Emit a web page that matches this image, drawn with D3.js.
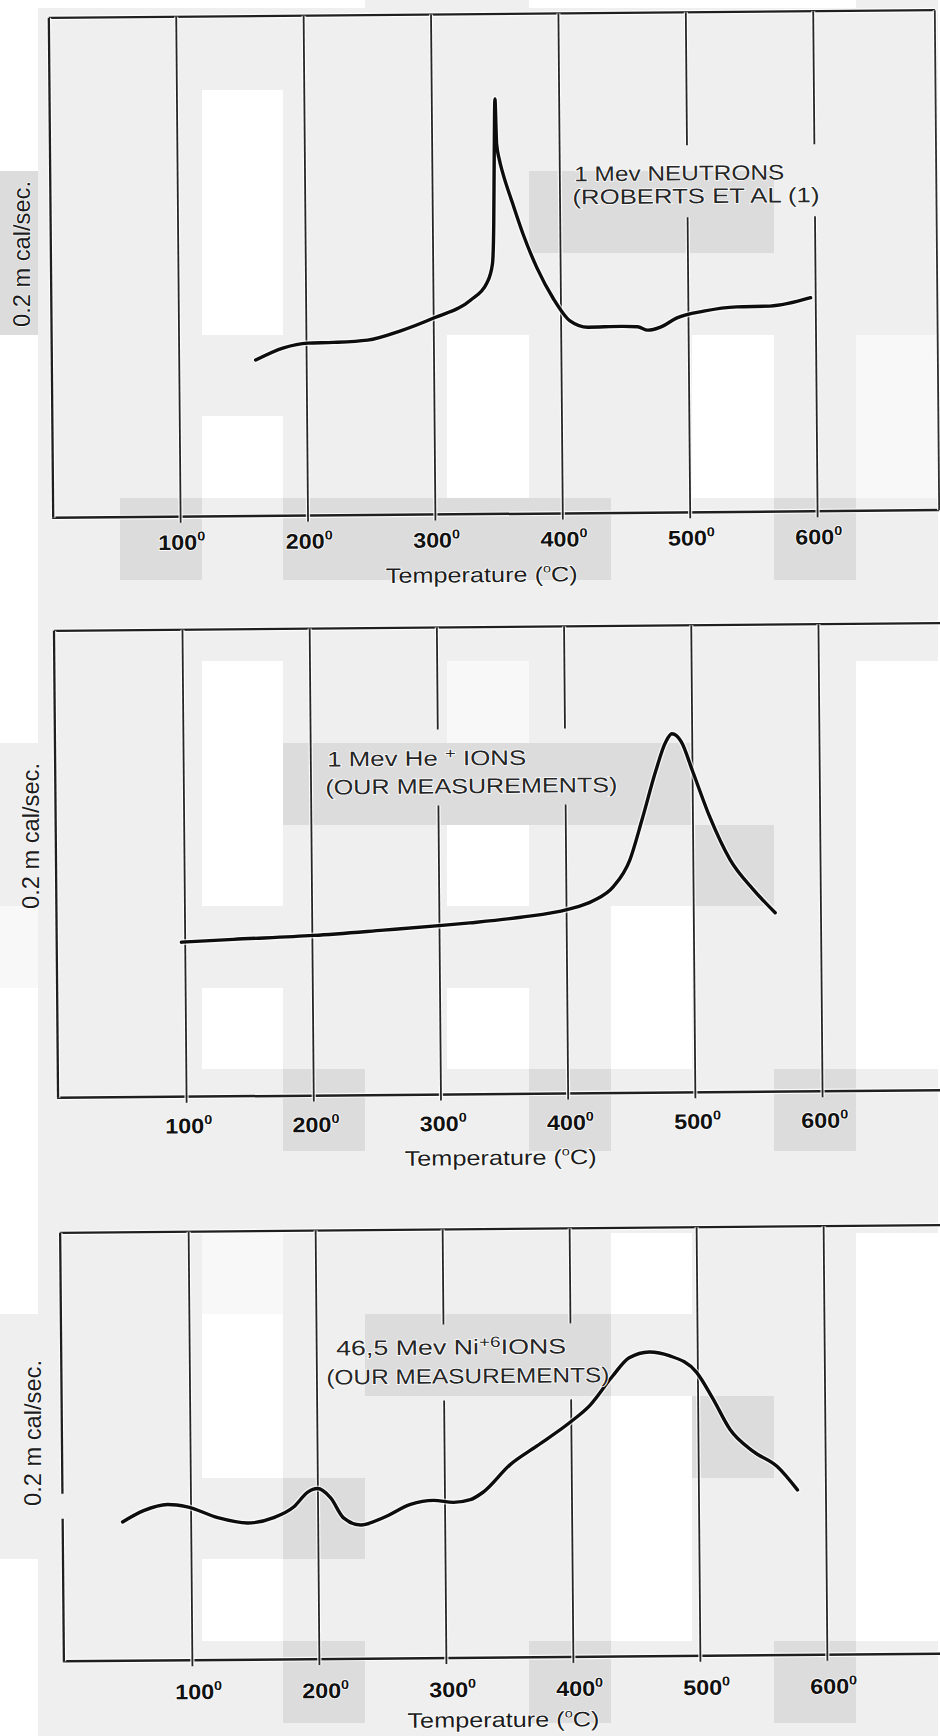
<!DOCTYPE html>
<html><head><meta charset="utf-8">
<script src="https://cdn.jsdelivr.net/npm/d3@7"></script>
<style>html,body{margin:0;padding:0;background:#fff;} svg{display:block;}</style>
</head><body>
<svg id="chart" width="940" height="1736"></svg>
<script>
// ---------------- data ----------------
const tickValues = [100, 200, 300, 400, 500, 600];
const tickLabels = ["100", "200", "300", "400", "500", "600"];
const yAxisLabel = "0.2 m cal/sec.";

// Panel 1 : 1 Mev neutrons (Roberts et al.)
const neutronTemps = [160, 182, 201, 221, 248, 274, 300, 329, 342, 346.5, 347.8, 348.6, 349.6, 350.6, 352.5, 355, 362.6, 370.5, 381.5, 394, 407, 421, 447, 460, 468, 478, 491, 512, 538, 564, 596];
const neutronVals  = [31.2, 33.6, 34.5, 34.6, 35.0, 36.8, 39.3, 42.8, 46.2, 50, 58, 71, 83, 74, 71, 68.4, 62.2, 56.1, 49.1, 43, 38.5, 37.2, 37.3, 37.2, 36.5, 37.1, 38.9, 40.2, 41, 41.1, 42.7];

// Panel 2 : 1 Mev He+ ions
const heTemps = [97, 138, 201, 256, 302, 324, 364, 401, 421, 437, 450, 460, 471, 479, 484, 491.5, 500, 513, 529, 547, 564];
const heVals  = [33.1, 33.6, 34.3, 35.3, 36.2, 36.7, 37.8, 39.4, 41.2, 44.2, 49.8, 58.5, 68.8, 75, 76.8, 75, 68.8, 59.1, 49.7, 43.3, 38.3];

// Panel 3 : 46,5 Mev Ni+6 ions
const niTemps = [46, 62.6, 81.5, 97, 121, 144.5, 165, 181, 192, 199.6, 210, 220, 233.5, 251.6, 272.8, 291, 306.7, 320, 330, 351.6, 372.8, 398.8, 414.6, 432.7, 446, 461.8, 477.5, 498.8, 511.4, 524.8, 543, 561.8, 577.6];
const niVals  = [32.4, 35, 36.4, 35.8, 33.2, 31.9, 33.1, 35.6, 39, 39.8, 37.6, 32.9, 31.2, 32.9, 35.9, 36.8, 36.3, 36.9, 38.6, 45, 49.3, 54.7, 58.6, 65.4, 69.7, 71, 70.1, 66.2, 60.1, 52.8, 47.6, 44, 38.5];

const annotation1 = [[{t:"1 Mev NEUTRONS"}], [{t:"(ROBERTS ET AL (1)"}]];
const annotation2 = [[{t:"1 Mev He "}, {t:"+", sup:true}, {t:" IONS"}], [{t:"(OUR MEASUREMENTS)"}]];
const annotation3 = [[{t:"46,5 Mev Ni"}, {t:"+6", sup:true}, {t:"IONS"}], [{t:"(OUR MEASUREMENTS)"}]];

// ---------------- scanned-page background tint pattern ----------------
const bgRows = [
  "WWWWWLLWWWWL",
  "WLLLLLLLLLLL",
  "WLLWLLLLLLLL",
  "DLLWLLLDDDLL",
  "DLLWLLLLLLLL",
  "WLLLLLWLLWLV",
  "WLLWLLWLLWLV",
  "WLDLDDDDLLDL",
  "WLLLLLLLLLLL",
  "WLLWLLVLLLLW",
  "LLLWDDDDDLLW",
  "LLLWLLWLLDLW",
  "VLLLLLLLWLLW",
  "WLLWLLWLWLLW",
  "WLLLDLLDLLDL",
  "WLLLLLLLLLLL",
  "WLLVLLLLWLLW",
  "LLLWLDDDLLLW",
  "LLLWLLLLWDLW",
  "LLLLDLLLWLLW",
  "WLLWLLLLWLLW",
  "WLLLDLLDLLDL",
  "WLLLLLLLLLLL"
];
const shade = {W:"#ffffff", L:"#efefef", D:"#dcdcdc", V:"#f8f8f8"};

const svg = d3.select("#chart");
const cellW = 81.8, cellH = 81.65;
const bg = svg.append("g").attr("shape-rendering", "crispEdges");
bgRows.forEach((row, i) => {
  row.split("").forEach((c, j) => {
    const x = 38 + cellW * (j - 1), y = 8 + cellH * (i - 1);
    bg.append("rect").attr("x", x).attr("y", y)
      .attr("width", cellW + 0.6).attr("height", cellH + 0.6)
      .attr("fill", shade[c]);
  });
});

// ---------------- panels ----------------
const panels = [
  { temps: neutronTemps, vals: neutronVals, ann: annotation1,
    x0: 51, x700: 942.8, frameLeft: 51, frameRight: 937, top: 14, bottom: 514,
    cx: 494, cy: 264, gapTicks: [500, 600], gap: [147, 219], frameGap: null,
    tickDx: 1, tickDy: 33, titleX: 479, titleY: 582,
    annLines: [{x: 575, y: 182, len: 210}, {x: 573, y: 205, len: 247}],
    yLab: {x: 30, y: 254} },
  { temps: heTemps, vals: heVals, ann: annotation2,
    x0: 57.3, x700: 947.7, frameLeft: 56, frameRight: null, top: 627, bottom: 1094,
    cx: 497, cy: 860, gapTicks: [300, 400], gap: [729, 805], frameGap: null,
    tickDx: 2, tickDy: 36.5, titleX: 498, titleY: 1165,
    annLines: [{x: 328, y: 765, len: 199}, {x: 326, y: 793, len: 292}],
    yLab: {x: 39, y: 836} },
  { temps: niTemps, vals: niVals, ann: annotation3,
    x0: 63.5, x700: 952.5, frameLeft: 62, frameRight: null, top: 1229, bottom: 1657.5,
    cx: 500, cy: 1443, gapTicks: [300, 400], gap: [1324, 1400], frameGap: [1490, 1515],
    tickDx: 6, tickDy: 39, titleX: 501, titleY: 1727,
    annLines: [{x: 337, y: 1354, len: 230}, {x: 327, y: 1383, len: 283}],
    yLab: {x: 41, y: 1433} }
];

const font = "'Liberation Sans', Arial, Helvetica, sans-serif";

function haloLine(g, pts, w, col) {
  const line = d3.line();
  g.append("path").attr("d", line(pts)).attr("fill", "none")
    .attr("stroke", "#ffffff").attr("stroke-width", w + 2.4).attr("stroke-opacity", 0.85);
  g.append("path").attr("d", line(pts)).attr("fill", "none")
    .attr("stroke", col).attr("stroke-width", w);
}

panels.forEach(p => {
  const xs = d3.scaleLinear().domain([0, 700]).range([p.x0, p.x700]);
  const ys = d3.scaleLinear().domain([0, 100]).range([p.bottom, p.top]);
  const g = svg.append("g").attr("transform", `rotate(-0.5,${p.cx},${p.cy})`);

  // frame
  const fr = p.frameRight !== null ? p.frameRight : 946;
  const frameCol = "#1f1f1f";
  haloLine(g, [[p.frameLeft, p.top], [fr, p.top]], 2.2, frameCol);
  haloLine(g, [[p.frameLeft - 1, p.bottom], [fr, p.bottom]], 2.5, frameCol);
  if (p.frameGap) {
    haloLine(g, [[p.frameLeft, p.top], [p.frameLeft, p.frameGap[0]]], 2.3, frameCol);
    haloLine(g, [[p.frameLeft, p.frameGap[1]], [p.frameLeft, p.bottom]], 2.3, frameCol);
  } else {
    haloLine(g, [[p.frameLeft, p.top], [p.frameLeft, p.bottom]], 2.3, frameCol);
  }
  if (p.frameRight !== null) haloLine(g, [[p.frameRight, p.top], [p.frameRight, p.bottom]], 1.8, "#2e2e2e");

  // vertical grid lines
  const gridCol = "#262626";
  tickValues.forEach(t => {
    const x = xs(t);
    if (p.gapTicks.includes(t)) {
      haloLine(g, [[x, p.top], [x, p.gap[0]]], 1.8, gridCol);
      haloLine(g, [[x, p.gap[1]], [x, p.bottom + 6]], 1.8, gridCol);
    } else {
      haloLine(g, [[x, p.top], [x, p.bottom + 6]], 1.8, gridCol);
    }
  });

  // curve
  const pts = p.temps.map((t, i) => ({t, v: p.vals[i]}));
  const line = d3.line().x(d => xs(d.t)).y(d => ys(d.v)).curve(d3.curveMonotoneX);
  g.append("path").datum(pts).attr("d", line).attr("fill", "none")
    .attr("stroke", "#fff").attr("stroke-width", 6).attr("stroke-opacity", 0.7)
    .attr("stroke-linecap", "round").attr("stroke-linejoin", "round");
  g.append("path").datum(pts).attr("d", line).attr("fill", "none")
    .attr("stroke", "#0d0d0d").attr("stroke-width", 3.4)
    .attr("stroke-linecap", "round").attr("stroke-linejoin", "round");

  // tick labels
  tickValues.forEach((t, i) => {
    const tx = g.append("text")
      .attr("x", xs(t) + p.tickDx).attr("y", p.bottom + p.tickDy)
      .attr("text-anchor", "middle")
      .attr("font-family", font).attr("font-weight", "bold").attr("font-size", 21)
      .attr("fill", "#111")
      .attr("stroke", "#fff").attr("stroke-width", 1.5).attr("paint-order", "stroke")
      .attr("textLength", 47).attr("lengthAdjust", "spacingAndGlyphs");
    tx.append("tspan").text(tickLabels[i]);
    tx.append("tspan").attr("font-size", 13).attr("dy", -9).text("0");
  });

  // axis title
  const tt = g.append("text")
    .attr("x", p.titleX).attr("y", p.titleY).attr("text-anchor", "middle")
    .attr("font-family", font).attr("font-size", 21).attr("fill", "#1c1c1c")
    .attr("stroke", "#fff").attr("stroke-width", 1.5).attr("paint-order", "stroke")
    .attr("textLength", 192).attr("lengthAdjust", "spacingAndGlyphs");
  tt.append("tspan").text("Temperature (");
  tt.append("tspan").attr("font-size", 12).attr("dy", -9).text("o");
  tt.append("tspan").attr("dy", 9).text("C)");

  // annotation
  p.ann.forEach((segs, li) => {
    const L = p.annLines[li];
    const te = g.append("text").attr("x", L.x).attr("y", L.y)
      .attr("font-family", font).attr("font-size", 21).attr("fill", "#262626")
      .attr("stroke", "#fff").attr("stroke-width", 1.5).attr("paint-order", "stroke")
      .attr("textLength", L.len).attr("lengthAdjust", "spacingAndGlyphs");
    let raised = false;
    segs.forEach(s => {
      const ts = te.append("tspan").text(s.t);
      if (s.sup) { ts.attr("font-size", 15).attr("dy", -7); raised = true; }
      else if (raised) { ts.attr("dy", 7); raised = false; }
    });
  });

  // y-axis label
  svg.append("text")
    .attr("transform", `translate(${p.yLab.x},${p.yLab.y}) rotate(-90)`)
    .attr("text-anchor", "middle")
    .attr("font-family", font).attr("font-size", 24).attr("fill", "#1c1c1c")
    .attr("stroke", "#fff").attr("stroke-width", 1.2).attr("paint-order", "stroke")
    .attr("textLength", 146).attr("lengthAdjust", "spacingAndGlyphs")
    .text(yAxisLabel);
});
</script>
</body></html>
